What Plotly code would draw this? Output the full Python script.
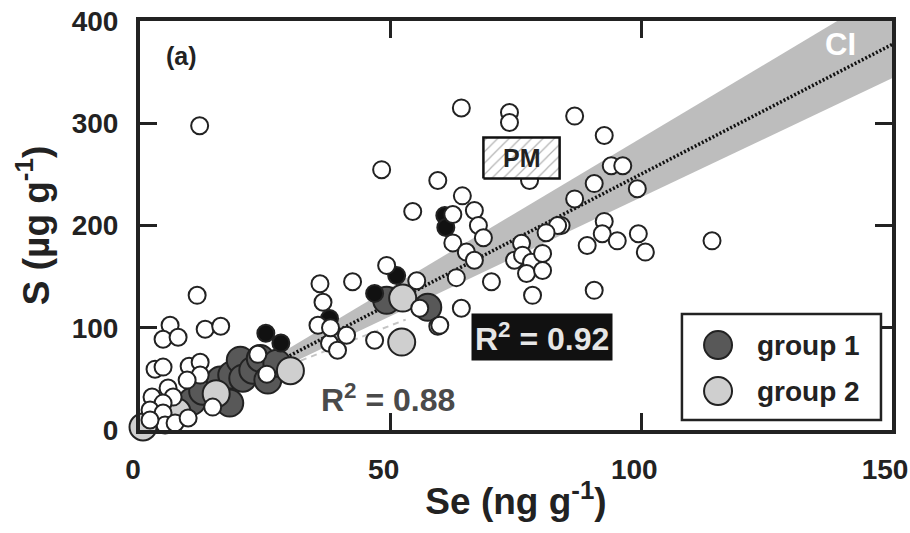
import plotly.graph_objects as go

# ---------------- data ----------------
open_x = [11.9, 64.1, 73.7, 73.7, 86.7, 92.6, 94.0, 96.3, 90.6, 99.2, 86.7, 84.0, 92.6, 92.2,
          89.2, 95.2, 99.4, 100.8, 114.1, 90.6, 77.7, 48.2, 59.4, 64.3, 54.4, 62.4, 66.7, 67.5,
          68.5, 62.4, 65.1, 66.7, 70.1, 63.1, 64.1, 59.4, 55.8, 55.2, 49.2, 42.4, 35.9, 36.5,
          83.3, 81.0, 76.1, 74.7, 76.3, 78.1, 80.3, 77.1, 80.3, 78.3, 59.8, 46.8, 37.8, 39.4,
          41.2, 35.5, 38.0, 11.4, 6.0, 4.6, 7.6, 13.0, 16.1, 3.0, 4.6, 9.8, 12.0, 12.0, 9.4,
          5.6, 6.6, 2.4, 4.6, 2.0, 4.6, 5.0, 7.0, 2.0, 9.6, 14.5, 23.5, 25.3]
open_y = [297.6, 315, 310.5, 300.7, 307, 288, 258.5, 258.5, 241, 236, 226, 200, 204, 192,
          180.5, 185, 192, 174, 185, 136.6, 244, 254.6, 244, 229, 213.7, 210.7, 214.6, 200,
          188, 183, 174, 166, 145, 149, 119, 101.5, 119, 146, 161, 145, 143, 125,
          200, 193, 182.6, 166, 171, 164, 172.7, 153, 156, 131.7, 102.4, 87.8, 84.9, 78,
          92.7, 102.4, 100, 131.7, 102.4, 88.8, 90.7, 98.5, 101.5, 59.5, 61.5, 62.4, 66.3, 53.7, 48.8,
          41, 32.2, 32.2, 26.3, 19.5, 16.6, 4.9, 6.8, 9.8, 11.7, 22.4, 74, 54.6]

black_x = [25.1, 28.1, 37.8, 46.8, 51.2, 60.8, 61.0]
black_y = [94.6, 85, 109, 133.6, 151, 209.8, 198]

group1_x = [10.4, 12.5, 16.0, 18.3, 17.9, 20.0, 20.5, 22.5, 24.0, 25.5, 27.3, 49.2, 57.4]
group1_y = [28, 38, 48.8, 53.7, 26.3, 68.3, 50.7, 58.5, 70, 48.8, 65.4, 126.8, 120]

group2_x = [0.6, 7.4, 15.2, 30.0, 52.4, 52.2]
group2_y = [2.9, 17.6, 35.5, 58, 129, 86]

# regression line (all data) and its confidence interval
fit_x = [27, 150]
fit_y = [65.5, 377]
ci_x = [27, 150]
ci_upper = [72, 432]
ci_lower = [58, 344]

# regression line (groups)
gfit_x = [28, 53]
gfit_y = [60, 108]

x_ticks = [0, 50, 100, 150]
y_ticks = [0, 100, 200, 300, 400]

# PM box corners (data units)
pm_x = [68.5, 83.7, 83.7, 68.5, 68.5]
pm_y = [246, 246, 286, 286, 246]

FONT = "Arial"
DARK = "#222222"

fig = go.Figure()

# CI band
fig.add_trace(go.Scatter(x=ci_x + ci_x[::-1], y=ci_upper + ci_lower[::-1], fill="toself",
                         fillcolor="#bdbdbd", line=dict(width=0), mode="lines",
                         hoverinfo="skip", showlegend=False))
# group fit dashed
fig.add_trace(go.Scatter(x=gfit_x, y=gfit_y, mode="lines",
                         line=dict(color="#c4c4c4", width=2, dash="6px,5px"),
                         showlegend=False))
# all-data fit dotted
fig.add_trace(go.Scatter(x=fit_x, y=fit_y, mode="lines",
                         line=dict(color="#111111", width=3.5, dash="2px,2px"),
                         showlegend=False))

mk_line = dict(color=DARK, width=2)
fig.add_trace(go.Scatter(x=group1_x, y=group1_y, mode="markers", name="group 1",
                         marker=dict(size=27, color="#585858", line=mk_line),
                         cliponaxis=False, showlegend=False))
fig.add_trace(go.Scatter(x=group2_x, y=group2_y, mode="markers", name="group 2",
                         marker=dict(size=27, color="#cfcfcf", line=mk_line),
                         cliponaxis=False, showlegend=False))
fig.add_trace(go.Scatter(x=black_x, y=black_y, mode="markers",
                         marker=dict(size=17, color="#111111", line=mk_line),
                         cliponaxis=False, showlegend=False))
fig.add_trace(go.Scatter(x=open_x, y=open_y, mode="markers",
                         marker=dict(size=17, color="white", line=mk_line),
                         cliponaxis=False, showlegend=False))

# PM hatched box
fig.add_trace(go.Scatter(x=pm_x, y=pm_y, mode="lines", fill="toself",
                         fillcolor="white",
                         fillpattern=dict(shape="/", fgcolor="#666666", bgcolor="white",
                                          size=8, solidity=0.15),
                         line=dict(color="#111111", width=2.5), showlegend=False))

axis_common = dict(showline=True, linewidth=4, linecolor=DARK, mirror="ticks",
                   ticks="inside", ticklen=17, tickwidth=3, tickcolor=DARK,
                   showgrid=False, zeroline=False, ticklabeloverflow="allow",
                   automargin=False,
                   tickfont=dict(family=FONT, size=28, color=DARK, weight="bold"))

fig.update_layout(
    width=910, height=533,
    margin=dict(l=140, r=18, t=21, b=103),
    paper_bgcolor="white", plot_bgcolor="white",
    showlegend=False,
    xaxis=dict(range=[0, 150], tickvals=x_ticks, ticklabelstandoff=11, ticklabelshift=-7,
               title=dict(text="Se (ng g<sup>-1</sup>)", standoff=6,
                          font=dict(family=FONT, size=37, color=DARK, weight="bold")),
               **axis_common),
    yaxis=dict(range=[0, 400], tickvals=y_ticks, ticklabelstandoff=12,
               title=dict(text="S (\u00b5g g<sup>-1</sup>)", standoff=12,
                          font=dict(family=FONT, size=37, color=DARK, weight="bold")),
               **axis_common),
)

# annotations
fig.add_annotation(x=8.2, y=366, text="(a)", showarrow=False,
                   font=dict(family=FONT, size=25, color=DARK, weight="bold"))
fig.add_annotation(x=139.8, y=377, text="CI", showarrow=False,
                   font=dict(family=FONT, size=31, color="white", weight="bold"))
fig.add_annotation(x=76.1, y=266, text="PM", showarrow=False,
                   font=dict(family=FONT, size=25, color=DARK, weight="bold"))
fig.add_annotation(x=80.1, y=90.7, text="R<sup>2</sup> = 0.92", showarrow=False,
                   bgcolor="#111111", borderpad=3,
                   font=dict(family=FONT, size=32, color="#e6e6e6", weight="bold"))
fig.add_annotation(x=49.4, y=31.2, text="R<sup>2</sup> = 0.88", showarrow=False,
                   font=dict(family=FONT, size=32, color="#4a4a4a", weight="bold"))

# legend box
fig.add_shape(type="rect", x0=108.1, x1=147.8, y0=9.8, y1=113.4, xref="x", yref="y",
              line=dict(color=DARK, width=2.5), fillcolor="white", layer="above")
for yc, col, lab in [(83.1, "#585858", "group 1"), (38.1, "#cfcfcf", "group 2")]:
    fig.add_shape(type="circle", xref="x", yref="y", xsizemode="pixel", ysizemode="pixel",
                  xanchor=115.3, yanchor=yc, x0=-14, x1=14, y0=-14, y1=14,
                  line=dict(color=DARK, width=2), fillcolor=col, layer="above")
    fig.add_annotation(x=122.7, y=yc, text=lab, showarrow=False, xanchor="left",
                       font=dict(family=FONT, size=28, color=DARK, weight="bold"))

fig.write_html("out.html")
